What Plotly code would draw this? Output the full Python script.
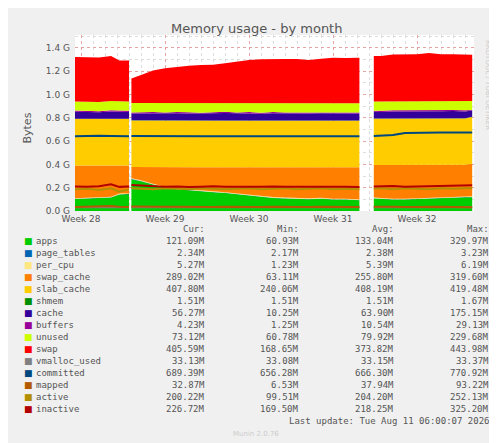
import pandas as pd
import plotly.graph_objects as go

# sample times, in days after Mon 2026-07-06 (start of week 28)
days = [-0.5, 0.5, 1.5, 2.5, 3.2, 4.0,
        4.2, 5, 6, 7, 8, 9, 10, 11, 12, 13, 14, 15, 16, 17, 18, 19, 20, 21, 22, 23.2,
        24.4, 25, 26, 27, 28, 29, 30, 31, 32, 32.6]
gaps = [(4.0, 4.2), (23.2, 24.4)]

# stacked series, MiB
apps = [105, 108, 110, 118, 145, 150,
        280, 262, 232, 205, 190, 180, 172, 165, 158, 148, 135, 122, 115, 110, 106, 104, 108, 100, 100, 95,
        110, 105, 100, 100, 105, 110, 110, 115, 120, 121]
page_tables = [2.4] * 36
per_cpu = [5.3] * 36
swap_cache = [288, 285, 282, 275, 248, 243,
              98, 115, 145, 172, 187, 197, 205, 212, 219, 229, 242, 255, 262, 267, 271, 273, 269, 277, 277, 282,
              287, 292, 297, 297, 292, 287, 287, 282, 278, 289]
slab_cache = [408, 408, 408, 408, 408, 408,
              410, 410, 409, 409, 408, 408, 408, 408, 408, 408, 408, 408, 408, 408, 408, 408, 408, 408, 408, 408,
              406, 406, 407, 407, 407, 408, 408, 408, 408, 408]
shmem = [1.5] * 36
cache = [62, 60, 58, 64, 62, 60,
         60, 62, 63, 61, 64, 62, 60, 64, 66, 62, 63, 60, 64, 62, 61, 63, 65, 62, 60, 62,
         60, 58, 62, 64, 66, 62, 63, 64, 60, 56]
buffers = [10, 11, 10, 12, 10, 11,
           9, 10, 11, 10, 12, 11, 10, 10, 11, 10, 12, 10, 11, 10, 10, 11, 10, 10, 11, 10,
           9, 10, 11, 10, 10, 11, 10, 10, 9, 4.2]
unused = [80, 80, 80, 80, 80, 80,
          82, 80, 79, 80, 78, 80, 80, 79, 78, 80, 79, 80, 79, 80, 80, 79, 78, 80, 80, 80,
          80, 81, 79, 78, 78, 80, 80, 79, 80, 80]
swap = [390, 390, 392, 395, 360, 360,
        216, 246, 287, 308, 318, 328, 338, 338, 349, 369, 379, 390, 390, 390, 390, 380, 390, 400, 400, 400,
        400, 400, 410, 410, 410, 420, 410, 410, 410, 406]

# line series, MiB
vmalloc_used = [33.1] * 36
committed = [656, 660, 662, 660, 658, 657,
             658, 657, 657, 657, 656, 656, 656, 656, 656, 656, 656, 656, 656, 656, 656, 656, 656, 656, 656, 656,
             660, 662, 668, 685, 688, 688, 689, 689, 689, 689]
mapped = [36, 38, 40, 45, 38, 36,
          40, 38, 36, 37, 38, 36, 37, 36, 38, 36, 37, 36, 38, 36, 37, 36, 38, 36, 37, 36,
          38, 40, 37, 36, 38, 36, 37, 35, 34, 33]
active = [190, 195, 185, 200, 170, 190,
          200, 195, 190, 200, 195, 190, 200, 195, 190, 195, 200, 190, 195, 200, 190, 195, 200, 190, 195, 190,
          195, 200, 190, 200, 195, 190, 200, 195, 200, 200]
inactive = [215, 212, 218, 235, 212, 215,
            228, 222, 218, 212, 216, 210, 214, 218, 212, 215, 214, 212, 216, 213, 214, 212, 215, 213, 212, 210,
            215, 218, 220, 214, 216, 220, 218, 222, 224, 227]

legend_rows = [
    ("apps", "#00CC00", "121.09M", "60.93M", "133.04M", "329.97M"),
    ("page_tables", "#0066B3", "2.34M", "2.17M", "2.38M", "3.23M"),
    ("per_cpu", "#FFE680", "5.27M", "1.23M", "5.39M", "6.19M"),
    ("swap_cache", "#FF8000", "289.02M", "63.11M", "255.80M", "319.60M"),
    ("slab_cache", "#FFCC00", "407.80M", "240.06M", "408.19M", "419.48M"),
    ("shmem", "#008F00", "1.51M", "1.51M", "1.51M", "1.67M"),
    ("cache", "#330099", "56.27M", "10.25M", "63.90M", "175.15M"),
    ("buffers", "#990099", "4.23M", "1.25M", "10.54M", "29.13M"),
    ("unused", "#CCFF00", "73.12M", "60.78M", "79.92M", "229.68M"),
    ("swap", "#FF0000", "405.59M", "168.65M", "373.82M", "443.98M"),
    ("vmalloc_used", "#808080", "33.13M", "33.08M", "33.15M", "33.37M"),
    ("committed", "#00487D", "689.39M", "656.28M", "666.30M", "770.92M"),
    ("mapped", "#B35A00", "32.87M", "6.53M", "37.94M", "93.22M"),
    ("active", "#B38F00", "200.22M", "99.51M", "204.20M", "252.13M"),
    ("inactive", "#B30000", "226.72M", "169.50M", "218.25M", "325.20M"),
]
colors = {r[0]: r[1] for r in legend_rows}

t0 = pd.Timestamp("2026-07-06")
eps = 0.001


def expand(vals, fill):
    xs, ys = [], []
    for d, v in zip(days, vals):
        for g0, g1 in gaps:
            if abs(d - g1) < 1e-9:
                xs += [g0 + eps, g1 - eps]
                ys += [fill, fill]
        xs.append(d)
        ys.append(v)
    return [t0 + pd.Timedelta(days=x) for x in xs], [None if y is None else y / 1024 for y in ys]


fig = go.Figure()
stacked = [("apps", apps), ("page_tables", page_tables), ("per_cpu", per_cpu),
           ("swap_cache", swap_cache), ("slab_cache", slab_cache), ("shmem", shmem),
           ("cache", cache), ("buffers", buffers), ("unused", unused), ("swap", swap)]
for name, vals in stacked:
    x, y = expand(vals, 0)
    fig.add_trace(go.Scatter(x=x, y=y, stackgroup="mem", mode="lines", line=dict(width=0),
                             fillcolor=colors[name], name=name, hoverinfo="skip"))

for name, vals in [("vmalloc_used", vmalloc_used), ("committed", committed), ("mapped", mapped),
                   ("active", active), ("inactive", inactive)]:
    x, y = expand(vals, None)
    fig.add_trace(go.Scatter(x=x, y=y, mode="lines", line=dict(color=colors[name], width=2),
                             connectgaps=False, name=name, hoverinfo="skip"))

L, R, T, B = 67, 466, 27, 203
W, H = 497, 443


def px(xp):
    return (xp - L) / (R - L)


def py(yp):
    return (B - yp) / (B - T)


mono = "DejaVu Sans Mono"
ann = []
ann.append(dict(x=px(248), y=py(11), text="Memory usage - by month", showarrow=False,
                font=dict(family="DejaVu Sans", size=13, color="#555")))
ann.append(dict(x=px(11), y=py(120), text="Bytes", textangle=-90, showarrow=False,
                font=dict(family="DejaVu Sans", size=11, color="#555")))
ann.append(dict(x=px(486), y=py(30), text="RRDTOOL / TOBI OETIKER", textangle=90, showarrow=False,
                font=dict(family="DejaVu Sans", size=7, color="#ccc"), yanchor="top"))
ann.append(dict(x=px(248), y=py(432), text="Munin 2.0.76", showarrow=False,
                font=dict(family="DejaVu Sans", size=7, color="#ccc")))
cols = [199, 293, 388, 483]
for cx, h in zip(cols, ["Cur:", "Min:", "Avg:", "Max:"]):
    ann.append(dict(x=px(cx), y=py(228), text=h, xanchor="right", showarrow=False,
                    font=dict(family=mono, size=9, color="#555")))
for i, (name, c, *vals) in enumerate(legend_rows):
    yy = py(240 + 12 * i)
    ann.append(dict(x=px(14), y=yy, text="■", showarrow=False, xanchor="left",
                    font=dict(family="DejaVu Sans", size=9, color=c)))
    ann.append(dict(x=px(26), y=yy, text=name, showarrow=False, xanchor="left",
                    font=dict(family=mono, size=9, color="#555")))
    for cx, v in zip(cols, vals):
        ann.append(dict(x=px(cx), y=yy, text=v, xanchor="right", showarrow=False,
                        font=dict(family=mono, size=9, color="#555")))
ann.append(dict(x=px(483), y=py(420), text="Last update: Tue Aug 11 06:00:07 2026", xanchor="right",
                showarrow=False, font=dict(family=mono, size=9, color="#555")))
for a in ann:
    a.setdefault("xref", "paper")
    a.setdefault("yref", "paper")

weeks = [t0 + pd.Timedelta(days=7 * k) for k in range(5)]
fig.update_layout(
    width=W, height=H, showlegend=False, annotations=ann,
    paper_bgcolor="#F0F0F0", plot_bgcolor="white",
    margin=dict(l=L, r=W - R, t=T, b=H - B, autoexpand=False),
    xaxis=dict(range=[t0 + pd.Timedelta(days=-0.5), t0 + pd.Timedelta(days=32.75)],
               tickvals=weeks, ticktext=["Week %d" % (28 + k) for k in range(5)],
               showgrid=True, gridcolor="rgba(230,150,150,0.8)", griddash="dot", gridwidth=1,
               minor=dict(dtick=86400000, showgrid=True, gridcolor="#ddd", griddash="dot"),
               tickfont=dict(family="DejaVu Sans", size=9, color="#555"), ticks="", zeroline=False,
               automargin=False, ticklabelstandoff=1),
    yaxis=dict(range=[0, 1.51], tickvals=[0.2 * k for k in range(8)],
               ticktext=["%.1f G" % (0.2 * k) for k in range(8)],
               showgrid=True, gridcolor="rgba(230,150,150,0.8)", griddash="dot",
               minor=dict(dtick=0.1, showgrid=True, gridcolor="#ddd", griddash="dot"),
               tickfont=dict(family="DejaVu Sans", size=9, color="#555"), ticks="", zeroline=False,
               automargin=False, ticklabelstandoff=4),
)
fig.write_html("out.html")
